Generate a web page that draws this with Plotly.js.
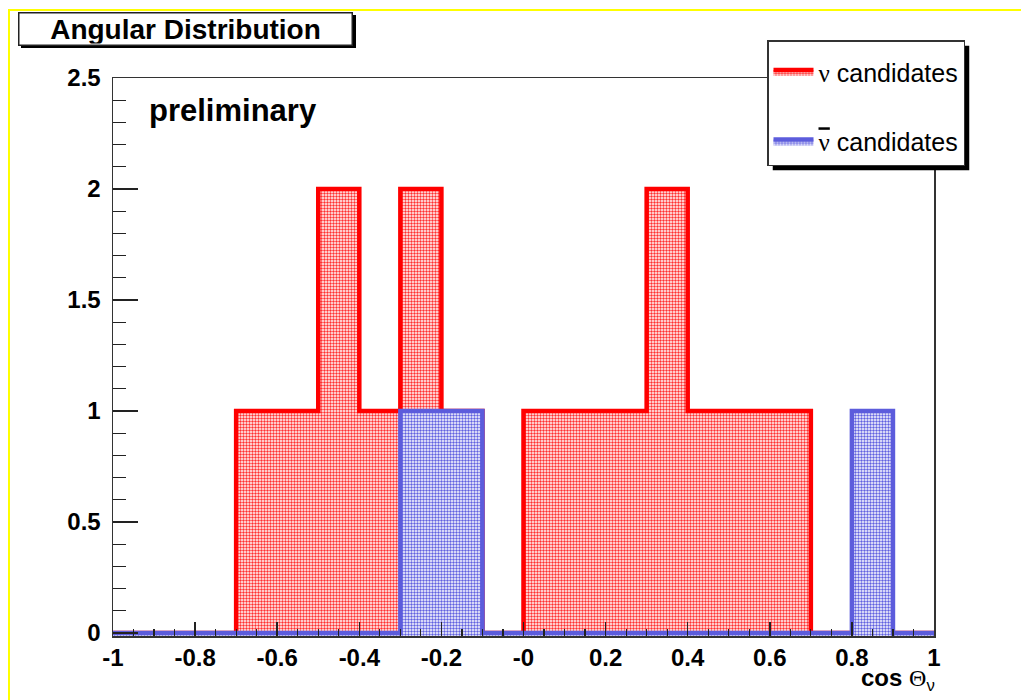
<!DOCTYPE html>
<html>
<head>
<meta charset="utf-8">
<script src="https://cdn.plot.ly/plotly-3.0.1.min.js"></script>
<style>
html,body{margin:0;padding:0;background:#fff;}
#wrap{position:relative;width:1021px;height:700px;}
#chart{width:1021px;height:700px;}
#ytop{position:absolute;left:8px;top:9px;width:1013px;height:2px;background:#ffff00;pointer-events:none;}
#yleft{position:absolute;left:8px;top:9px;width:2px;height:691px;background:#ffff00;pointer-events:none;}
</style>
</head>
<body>
<div id="wrap"><div id="chart"></div><div id="ytop"></div><div id="yleft"></div></div>
<script>
// bin lower edges (width 0.1)
const binLow = [-1, -0.9, -0.8, -0.7, -0.6, -0.5, -0.4, -0.3, -0.2, -0.1,
                0, 0.1, 0.2, 0.3, 0.4, 0.5, 0.6, 0.7, 0.8, 0.9];
const binHigh = 1;
const nuCounts    = [0,0,0,1,1,2,1,2,1,0, 1,1,1,2,1,1,1,0,0,0];
const nubarCounts = [0,0,0,0,0,0,0,1,1,0, 0,0,0,0,0,0,0,0,1,0];
const xTickVals   = [-1,-0.8,-0.6,-0.4,-0.2,0,0.2,0.4,0.6,0.8,1];
const xTickText   = ["-1","-0.8","-0.6","-0.4","-0.2","-0","0.2","0.4","0.6","0.8","1"];
const yTickVals   = [0,0.5,1,1.5,2,2.5];
const yTickText   = ["0","0.5","1","1.5","2","2.5"];

const W = 1021, H = 700;
const L = 113, R = 934, T = 78, B = 633;   // value-0 baseline at B
const BP = 636;                              // plot-area bottom (a little below 0 so the baseline isn't clipped)
const yMax = 2.5;
const yMin = -(BP - B) * yMax / (B - T);
const px = x => (x - L) / (R - L);
const py = y => (BP - y) / (BP - T);

function stepX(){ return binLow.concat([binHigh]); }
function stepY(v){ return v.concat([v[v.length-1]]); }

const red = '#ff0000', blue = '#5c5cdc';
const serif = "'Liberation Serif','DejaVu Serif',serif";

const traces = [
  {
    type:'scatter', mode:'lines', x: stepX(), y: stepY(nuCounts),
    line:{shape:'hv', color:red, width:4.5},
    fill:'tozeroy', fillcolor:'rgba(255,0,0,0)',
    fillpattern:{shape:'.', fgcolor:'#ff3030', bgcolor:'#ffffff', size:3, solidity:0.5},
    name:'<span style="font-family:'+serif+'">ν</span> candidates',
    legendgroup:'a'
  },
  { // invisible floor at the bottom edge of the frame, so the blue fill reaches the axis
    type:'scatter', mode:'lines', x: stepX(), y: stepX().map(() => yMin),
    line:{width:0, color:'rgba(0,0,0,0)'}, showlegend:false, hoverinfo:'skip'
  },
  {
    type:'scatter', mode:'lines', x: stepX(), y: stepY(nubarCounts),
    line:{shape:'hv', color:blue, width:4.5},
    fill:'tonexty', fillcolor:'rgba(0,0,255,0)',
    fillpattern:{shape:'.', fgcolor:'#6060e0', bgcolor:'#ffffff', size:3, solidity:0.5},
    name:'<span style="font-family:'+serif+';text-decoration:overline">ν</span> candidates',
    legendgroup:'b'
  }
];

const tickFont = {family:"'Liberation Sans', Arial, sans-serif", size:24, color:'#000', weight:'bold'};

const layout = {
  width:W, height:H,
  margin:{l:L, r:W-R, t:T, b:H-BP, pad:0},
  paper_bgcolor:'#ffffff', plot_bgcolor:'#ffffff',
  font:{family:"'Liberation Sans', Arial, sans-serif", color:'#000'},
  showlegend:true,
  legend:{
    x:px(767), y:py(40), xanchor:'left', yanchor:'top',
    bgcolor:'#ffffff', bordercolor:'#333', borderwidth:1.5,
    font:{size:25, color:'#000'}, tracegroupgap:34,
    itemwidth:40,
    title:{text:' ', font:{size:6}}
  },
  xaxis:{
    range:[-1,1], showgrid:false, zeroline:false,
    showline:true, linecolor:'#333', linewidth:1.5, mirror:true,
    ticks:'inside', ticklen:14, tickwidth:1.5, tickcolor:'#222',
    tickvals:xTickVals, ticktext:xTickText, tickfont:tickFont,
    ticklabelstandoff:0,
    minor:{dtick:0.05, tick0:-1, ticks:'inside', ticklen:7, tickwidth:1.2, tickcolor:'#222'}
  },
  yaxis:{
    range:[yMin, yMax], showgrid:false, zeroline:false,
    showline:true, linecolor:'#333', linewidth:1.5, mirror:true,
    ticks:'inside', ticklen:25, tickwidth:1.5, tickcolor:'#222',
    tickvals:yTickVals, ticktext:yTickText, tickfont:tickFont,
    ticklabelstandoff:6,
    minor:{dtick:0.1, tick0:0, ticks:'inside', ticklen:13, tickwidth:1.2, tickcolor:'#222'}
  },
  shapes:[
    {type:'rect', xref:'paper', yref:'paper', layer:'above',
     x0:px(21), x1:px(356), y0:py(15), y1:py(48),
     fillcolor:'#000', line:{width:0}}
  ],
  annotations:[
    {xref:'paper', yref:'paper', x:px(185.5), y:py(28.5), xanchor:'center', yanchor:'middle',
     text:'Angular Distribution', showarrow:false,
     font:{size:28, weight:'bold', color:'#000'},
     width:330, height:29, bgcolor:'#ffffff', bordercolor:'#222', borderwidth:1.5, borderpad:1},
    {xref:'paper', yref:'paper', x:px(147), y:py(110), xanchor:'left', yanchor:'middle',
     text:'preliminary', showarrow:false,
     font:{size:31, weight:'bold', color:'#000'}},
    {xref:'paper', yref:'paper', x:px(937), y:py(697), xanchor:'right', yanchor:'bottom',
     text:'cos <span style="font-weight:normal;font-family:'+serif+'">Θ</span><sub><span style="font-weight:normal">ν</span></sub>', showarrow:false,
     font:{size:24, weight:'bold', color:'#000'}}
  ]
};

Plotly.newPlot('chart', traces, layout, {displayModeBar:false, staticPlot:true}).then(gd => {
  const bg = gd.querySelector('.legend .bg');
  const root = gd.getBoundingClientRect();
  if (bg) {
    const r = bg.getBoundingClientRect();
    const x0 = r.left - root.left + 5, x1 = r.right - root.left + 5;
    const y0 = r.top - root.top + 5, y1 = r.bottom - root.top + 5;
    const shapes = gd.layout.shapes.concat([
      {type:'rect', xref:'paper', yref:'paper', layer:'above',
       x0:px(x0), x1:px(x1), y0:py(y1), y1:py(y0), fillcolor:'#000', line:{width:0}}
    ]);
    Plotly.relayout(gd, {shapes:shapes});
  }
});
</script>
</body>
</html>
